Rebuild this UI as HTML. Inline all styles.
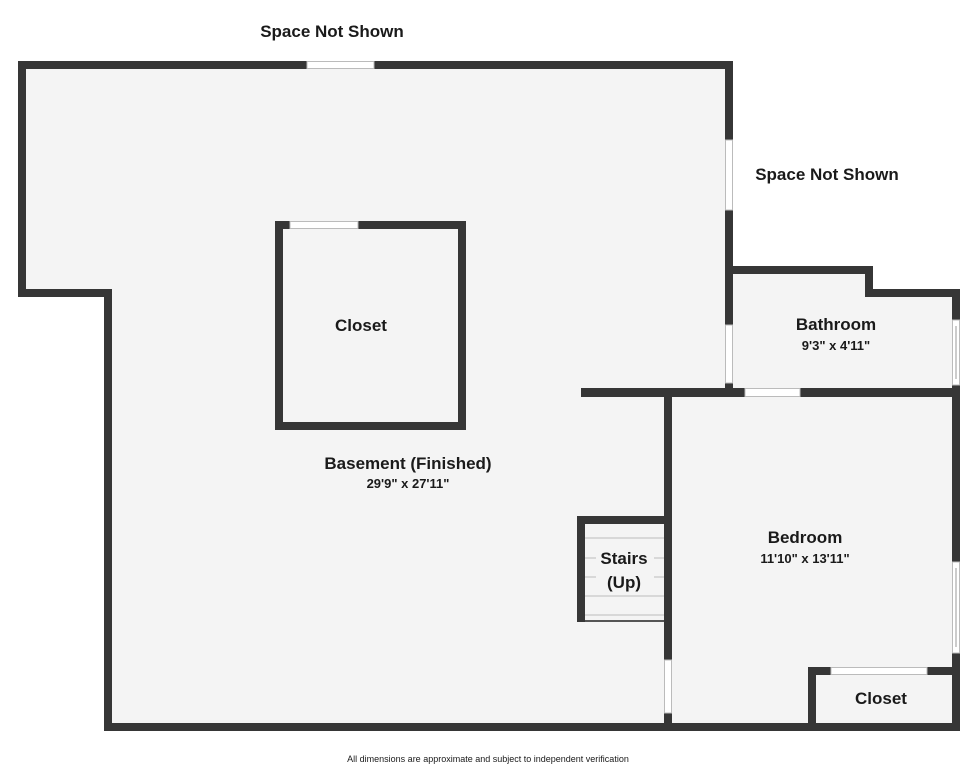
<!DOCTYPE html>
<html><head><meta charset="utf-8"><style>
html,body{margin:0;padding:0;background:#fff;}
svg{display:block;}
text{font-family:"Liberation Sans",sans-serif;fill:#1a1a1a;}
.b{font-weight:bold;font-size:17px;}
.d{font-weight:bold;font-size:13px;}
</style></head><body>
<svg width="977" height="768" viewBox="0 0 977 768">
<!-- floor -->
<polygon points="22,65 729,65 729,270 869,270 869,293 956,293 956,727 108,727 108,293 22,293" fill="#f4f4f4"/>
<g fill="#363636">
<!-- outer walls -->
<rect x="18" y="61" width="715" height="8"/>
<rect x="18" y="61" width="8" height="236"/>
<rect x="18" y="289" width="94" height="8"/>
<rect x="104" y="289" width="8" height="442"/>
<rect x="104" y="723" width="856" height="8"/>
<rect x="725" y="61" width="8" height="334"/>
<rect x="725" y="266" width="148" height="8"/>
<rect x="865" y="266" width="8" height="31"/>
<rect x="865" y="289" width="95" height="8"/>
<rect x="952" y="289" width="8" height="442"/>
<!-- interior -->
<rect x="581" y="388" width="379" height="9"/>
<rect x="664" y="388" width="8" height="343"/>
<rect x="577" y="516" width="95" height="8"/>
<rect x="577" y="516" width="8" height="106"/>
<rect x="808" y="667" width="152" height="8"/>
<rect x="808" y="667" width="8" height="64"/>
<!-- closet -->
<rect x="275" y="221" width="191" height="8"/>
<rect x="275" y="221" width="8" height="209"/>
<rect x="458" y="221" width="8" height="209"/>
<rect x="275" y="422" width="191" height="8"/>
</g>
<!-- openings -->
<g fill="#fff" stroke="#bbb" stroke-width="1">
<rect x="307" y="61.5" width="67" height="7"/>
<rect x="725.5" y="140" width="7" height="70"/>
<rect x="725.5" y="325" width="7" height="58"/>
<rect x="745" y="388.5" width="55" height="8"/>
<rect x="664.5" y="660" width="7" height="53"/>
<rect x="831" y="667.5" width="96" height="7"/>
<rect x="290" y="221.5" width="68" height="7"/>
<rect x="952.5" y="320" width="7" height="65"/>
<rect x="952.5" y="562" width="7" height="91"/>
</g>
<g stroke="#999" stroke-width="1">
<line x1="956" y1="326" x2="956" y2="379"/>
<line x1="956" y1="568" x2="956" y2="647"/>
</g>
<!-- stairs -->
<g stroke="#bbb" stroke-width="1">
<line x1="585" y1="538" x2="664" y2="538"/>
<line x1="585" y1="558" x2="664" y2="558"/>
<line x1="585" y1="577" x2="664" y2="577"/>
<line x1="585" y1="596" x2="664" y2="596"/>
<line x1="585" y1="615" x2="664" y2="615"/>
</g>
<line x1="585" y1="621" x2="664" y2="621" stroke="#555" stroke-width="2"/>
<rect x="596" y="545" width="58" height="44" fill="#f4f4f4"/>
<!-- labels -->
<text class="b" x="332" y="37" text-anchor="middle">Space Not Shown</text>
<text class="b" x="827" y="180" text-anchor="middle">Space Not Shown</text>
<text class="b" x="361" y="331" text-anchor="middle">Closet</text>
<text class="b" x="408" y="469" text-anchor="middle">Basement (Finished)</text>
<text class="d" x="408" y="488" text-anchor="middle">29'9" x 27'11"</text>
<text class="b" x="836" y="330" text-anchor="middle">Bathroom</text>
<text class="d" x="836" y="350" text-anchor="middle">9'3" x 4'11"</text>
<text class="b" x="805" y="543" text-anchor="middle">Bedroom</text>
<text class="d" x="805" y="563" text-anchor="middle">11'10" x 13'11"</text>
<text class="b" x="624" y="564" text-anchor="middle">Stairs</text>
<text class="b" x="624" y="588" text-anchor="middle">(Up)</text>
<text class="b" x="881" y="704" text-anchor="middle">Closet</text>
<text x="488" y="762" text-anchor="middle" style="font-size:9px">All dimensions are approximate and subject to independent verification</text>
</svg>
</body></html>
